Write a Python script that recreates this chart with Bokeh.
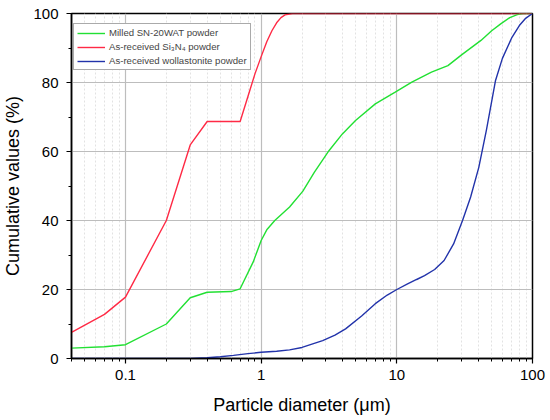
from bokeh.plotting import figure
from bokeh.models import Range1d, FixedTicker, CustomJSTickFormatter, Legend, LegendItem
from bokeh.embed import file_html
from bokeh.resources import INLINE

# Data
milled_x = [0.04, 0.07, 0.1, 0.2, 0.3, 0.4, 0.6, 0.7, 0.874, 1.0, 1.1, 1.26, 1.62, 2.03, 2.47,
            3.17, 3.97, 4.96, 6.94, 9.73, 12.9, 18, 23.8, 30, 41.7, 50, 58.3, 68, 77.3, 85, 100]
milled_y = [3.0, 3.4, 4.0, 10.0, 17.6, 19.2, 19.4, 20.2, 28.0, 34.2, 37.3, 40.0, 43.9, 48.5, 54.0,
            60.3, 65.1, 69.0, 73.8, 77.2, 80.1, 83.0, 84.9, 88.0, 92.2, 95.0, 97.0, 98.8, 99.7, 100, 100]

si3n4_x = [0.04, 0.07, 0.1, 0.2, 0.3, 0.4, 0.7, 0.8, 0.9, 1.0, 1.1, 1.2, 1.3, 1.4, 1.5, 1.7, 100]
si3n4_y = [7.6, 12.8, 17.8, 40.0, 61.9, 68.7, 68.7, 76.0, 82.5, 87.5, 91.8, 95.0, 97.3, 98.8, 99.6, 100, 100]

woll_x = [0.04, 0.2, 0.3, 0.4, 0.5, 0.625, 0.8, 1.0, 1.3, 1.62, 2.0, 2.84, 3.5, 4.19, 5.5, 6.94,
          8.5, 10, 12, 14, 16, 19, 22.3, 26.2, 30.5, 35, 40.2, 45.7, 53.4, 60, 70.6, 80, 88.4, 100]
woll_y = [0.0, 0.0, 0.05, 0.2, 0.5, 0.9, 1.4, 1.8, 2.1, 2.5, 3.2, 5.2, 6.8, 8.6, 12.3, 15.9,
          18.4, 20.0, 21.6, 22.9, 24.0, 25.8, 28.4, 33.2, 40.0, 46.8, 55.4, 66.1, 80.6, 87.0, 93.1,
          96.5, 98.5, 100]

x_major = [0.1, 1, 10, 100]
y_major = [0, 20, 40, 60, 80, 100]

series_labels = ["Milled SN-20WAT powder", "As-received Si\u2083N\u2084 powder",
                 "As-received wollastonite powder"]
x_title = "Particle diameter (\u03bcm)"
y_title = "Cumulative values (%)"

FONT = "Liberation Sans"

x_minor = [m * d for d in [0.01, 0.1, 1, 10] for m in range(2, 10) if 0.04 <= m * d <= 100]
y_minor = [10, 30, 50, 70, 90]

p = figure(width=548, height=418, x_axis_type="log",
           x_range=Range1d(0.04, 100), y_range=Range1d(0, 100),
           output_backend="svg", toolbar_location=None,
           min_border_left=67, min_border_right=16, min_border_top=13, min_border_bottom=60)

r1 = p.line(milled_x, milled_y, line_color="#22e033", line_width=1.4)
r2 = p.line(si3n4_x, si3n4_y, line_color="#ff2a45", line_width=1.4)
r3 = p.line(woll_x, woll_y, line_color="#2233aa", line_width=1.4)

xt = FixedTicker(ticks=x_major, minor_ticks=x_minor)
yt = FixedTicker(ticks=y_major, minor_ticks=y_minor)
p.xaxis.ticker = xt
p.yaxis.ticker = yt
p.xaxis.formatter = CustomJSTickFormatter(code="return tick.toString();")
p.xgrid.ticker = xt
p.ygrid.ticker = FixedTicker(ticks=y_major, minor_ticks=[])

for g in [p.xgrid, p.ygrid]:
    g.grid_line_color = "#bdbdbd"
    g.grid_line_width = 1.2
p.xgrid.minor_grid_line_color = "#e2e2e2"
p.xgrid.minor_grid_line_dash = "2 2"

for ax in [p.xaxis, p.yaxis]:
    ax.axis_line_color = "black"
    ax.axis_line_width = 1.5
    ax.major_tick_line_color = "black"
    ax.minor_tick_line_color = "black"
    ax.major_tick_line_width = 1.2
    ax.major_tick_in = 0
    ax.major_tick_out = 5
    ax.minor_tick_in = 0
    ax.minor_tick_out = 3
    ax.major_label_text_font = FONT
    ax.major_label_text_font_size = "15px"
    ax.major_label_text_color = "black"
    ax.axis_label_text_font = FONT
    ax.axis_label_text_font_size = "18px"
    ax.axis_label_text_font_style = "normal"
    ax.axis_label_text_color = "black"

p.xaxis.axis_label = x_title
p.yaxis.axis_label = y_title
p.xaxis.major_label_standoff = 6
p.yaxis.major_label_standoff = 8
p.xaxis.axis_label_standoff = 12
p.yaxis.axis_label_standoff = 7

p.outline_line_color = "black"
p.outline_line_width = 1.5
p.outline_line_alpha = 1.0

legend = Legend(items=[LegendItem(label=series_labels[0], renderers=[r1]),
                       LegendItem(label=series_labels[1], renderers=[r2]),
                       LegendItem(label=series_labels[2], renderers=[r3])],
                location=(2, 288))
legend.label_text_font = FONT
legend.label_text_font_size = "9.6px"
legend.label_height = 10
legend.glyph_height = 10
legend.glyph_width = 28
legend.spacing = 3
legend.padding = 3
legend.margin = 0
legend.label_standoff = 4
legend.border_line_color = "#555555"
legend.border_line_width = 1
legend.background_fill_alpha = 1.0
p.add_layout(legend)

open("out.html", "w").write(file_html(p, INLINE))
